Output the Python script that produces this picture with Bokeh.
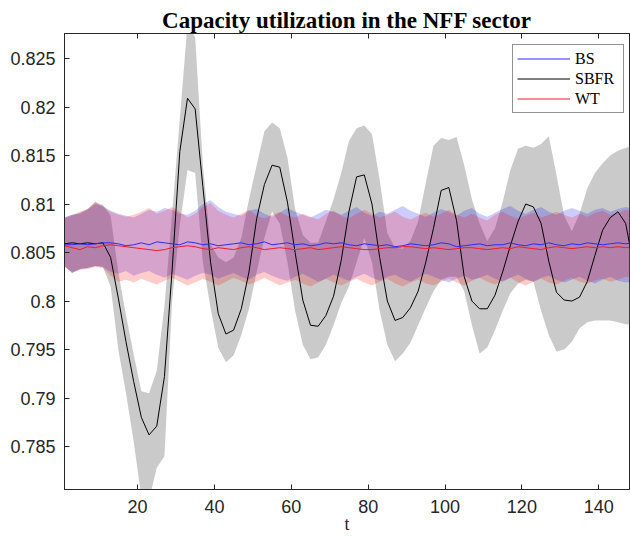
from bokeh.plotting import figure
from bokeh.models import Range1d, FixedTicker, LinearAxis, Legend, LegendItem
from bokeh.embed import file_html
from bokeh.resources import INLINE

# ---------------- data ----------------
t = list(range(1, 150, 2))

bs_mean = [0.8058, 0.8058, 0.8059, 0.8058, 0.8059, 0.8060, 0.8060, 0.8059, 0.8057, 0.8058,
           0.8060, 0.8058, 0.8061, 0.8060, 0.8059, 0.8058, 0.8061, 0.8060, 0.8058, 0.8059,
           0.8057, 0.8058, 0.8059, 0.8060, 0.8058, 0.8059, 0.8061, 0.8058, 0.8059, 0.8060,
           0.8058, 0.8059, 0.8057, 0.8058, 0.8060, 0.8059, 0.8060, 0.8058, 0.8057, 0.8059,
           0.8058, 0.8057, 0.8058, 0.8056, 0.8057, 0.8059, 0.8058, 0.8057, 0.8058, 0.8060,
           0.8059, 0.8056, 0.8057, 0.8058, 0.8059, 0.8057, 0.8058, 0.8058, 0.8060, 0.8058,
           0.8057, 0.8059, 0.8058, 0.8060, 0.8058, 0.8057, 0.8059, 0.8058, 0.8060, 0.8059,
           0.8058, 0.8059, 0.8060, 0.8059, 0.8060]
bs_upper = [0.8086, 0.8089, 0.8090, 0.8094, 0.8100, 0.8098, 0.8093, 0.8090, 0.8088, 0.8086,
            0.8090, 0.8094, 0.8092, 0.8096, 0.8094, 0.8090, 0.8089, 0.8093, 0.8100, 0.8104,
            0.8097, 0.8092, 0.8090, 0.8088, 0.8093, 0.8095, 0.8090, 0.8087, 0.8091, 0.8096,
            0.8092, 0.8089, 0.8086, 0.8090, 0.8094, 0.8092, 0.8089, 0.8093, 0.8097, 0.8091,
            0.8088, 0.8092, 0.8090, 0.8094, 0.8098, 0.8093, 0.8090, 0.8087, 0.8091, 0.8095,
            0.8092, 0.8088, 0.8093, 0.8096, 0.8090, 0.8087, 0.8091, 0.8095, 0.8098, 0.8093,
            0.8090, 0.8094, 0.8097, 0.8092, 0.8089, 0.8093, 0.8096, 0.8093, 0.8090, 0.8094,
            0.8096, 0.8092, 0.8095, 0.8097, 0.8095]
bs_lower = [0.8036, 0.8029, 0.8033, 0.8034, 0.8036, 0.8035, 0.8030, 0.8028, 0.8031, 0.8026,
            0.8029, 0.8031, 0.8027, 0.8024, 0.8028, 0.8025, 0.8022, 0.8026, 0.8029, 0.8027,
            0.8023, 0.8026, 0.8029, 0.8025, 0.8022, 0.8027, 0.8030, 0.8026, 0.8023, 0.8021,
            0.8025, 0.8028, 0.8024, 0.8020, 0.8023, 0.8027, 0.8024, 0.8021, 0.8025, 0.8028,
            0.8024, 0.8021, 0.8025, 0.8027, 0.8023, 0.8020, 0.8024, 0.8028, 0.8025, 0.8022,
            0.8019, 0.8023, 0.8026, 0.8022, 0.8024, 0.8027, 0.8023, 0.8020, 0.8024, 0.8027,
            0.8023, 0.8020, 0.8024, 0.8026, 0.8022, 0.8019, 0.8022, 0.8025, 0.8021, 0.8018,
            0.8022, 0.8025, 0.8021, 0.8019, 0.8020]

sbfr_mean = [0.8059, 0.8060, 0.8059, 0.8060, 0.8059, 0.8060,
             0.8045, 0.8003, 0.7958, 0.7917, 0.7880, 0.7862, 0.7871, 0.7922, 0.8032, 0.8154,
             0.8209, 0.8198, 0.8118, 0.8040,
             0.7987, 0.7966, 0.7970, 0.7992, 0.8030, 0.8085, 0.8120, 0.8140, 0.8138, 0.8102,
             0.8050, 0.8001, 0.7975, 0.7974, 0.7985, 0.8005, 0.8042, 0.8092, 0.8128, 0.8130,
             0.8100, 0.8045, 0.8000, 0.7980, 0.7983, 0.7993, 0.8010, 0.8040, 0.8075, 0.8114,
             0.8117, 0.8083, 0.8025, 0.8000, 0.7992, 0.7992, 0.8006, 0.8030, 0.8057, 0.8082,
             0.8100, 0.8097, 0.8080, 0.8041, 0.8009, 0.8001, 0.8000, 0.8004, 0.8020, 0.8047,
             0.8073, 0.8086, 0.8092, 0.8080, 0.8038]
sbfr_upper = [0.8086, 0.8089, 0.8091, 0.8095, 0.8102, 0.8099,
              0.8088, 0.8030, 0.7985, 0.7945, 0.7907, 0.7905, 0.7928, 0.7995, 0.8090, 0.8188,
              0.8285, 0.8272, 0.8140, 0.8058,
              0.8045, 0.8040, 0.8045, 0.8065, 0.8105, 0.8140, 0.8175, 0.8184, 0.8178, 0.8148,
              0.8095, 0.8068, 0.8060, 0.8060, 0.8082, 0.8105, 0.8132, 0.8165, 0.8178, 0.8181,
              0.8172, 0.8125, 0.8070, 0.8055, 0.8054, 0.8062, 0.8082, 0.8122, 0.8160, 0.8168,
              0.8166, 0.8169, 0.8140, 0.8105, 0.8080, 0.8062, 0.8075, 0.8102, 0.8135, 0.8157,
              0.8160, 0.8158, 0.8162, 0.8170, 0.8130, 0.8088, 0.8072, 0.8090, 0.8116, 0.8132,
              0.8142, 0.8150, 0.8155, 0.8158, 0.8160]
sbfr_lower = [0.8036, 0.8029, 0.8033, 0.8034, 0.8036, 0.8035,
              0.8015, 0.7950, 0.7905, 0.7855, 0.7798, 0.7795, 0.7828, 0.7840, 0.8000, 0.8078,
              0.8135, 0.8132, 0.8040, 0.7993,
              0.7952, 0.7937, 0.7944, 0.7965, 0.7992, 0.8030, 0.8065, 0.8092, 0.8080, 0.8040,
              0.7990, 0.7955, 0.7940, 0.7942, 0.7955, 0.7975, 0.7998, 0.8015, 0.8040, 0.8065,
              0.8040, 0.7990, 0.7955, 0.7938, 0.7946, 0.7957, 0.7975, 0.7993, 0.8010, 0.8022,
              0.8025, 0.8025, 0.8010, 0.7975, 0.7946, 0.7952, 0.7970, 0.7990, 0.8008, 0.8018,
              0.8022, 0.8020, 0.7990, 0.7965, 0.7948, 0.7950, 0.7958, 0.7972, 0.7978, 0.7980,
              0.7980, 0.7980, 0.7978, 0.7976, 0.7975]

wt_mean = [0.8057, 0.8055, 0.8053, 0.8056, 0.8055, 0.8057, 0.8058, 0.8057, 0.8056, 0.8055,
           0.8054, 0.8053, 0.8052, 0.8053, 0.8055, 0.8056, 0.8057, 0.8056, 0.8054, 0.8053,
           0.8055, 0.8054, 0.8053, 0.8055, 0.8056, 0.8055, 0.8053, 0.8054, 0.8055, 0.8054,
           0.8053, 0.8054, 0.8055, 0.8053, 0.8054, 0.8055, 0.8056, 0.8055, 0.8054, 0.8053,
           0.8053, 0.8054, 0.8055, 0.8055, 0.8056, 0.8056, 0.8055, 0.8054, 0.8055, 0.8054,
           0.8053, 0.8054, 0.8055, 0.8055, 0.8054, 0.8053, 0.8054, 0.8055, 0.8054, 0.8056,
           0.8055, 0.8054, 0.8053, 0.8055, 0.8056, 0.8055, 0.8054, 0.8055, 0.8056, 0.8055,
           0.8056, 0.8055, 0.8056, 0.8055, 0.8056]
wt_upper = [0.8085, 0.8088, 0.8092, 0.8095, 0.8102, 0.8097, 0.8092, 0.8089, 0.8087, 0.8089,
            0.8092, 0.8096, 0.8090, 0.8093, 0.8097, 0.8092, 0.8086, 0.8090, 0.8097, 0.8101,
            0.8093, 0.8089, 0.8086, 0.8090, 0.8094, 0.8088, 0.8085, 0.8089, 0.8092, 0.8088,
            0.8086, 0.8090, 0.8087, 0.8084, 0.8090, 0.8093, 0.8088, 0.8085, 0.8090, 0.8094,
            0.8090, 0.8086, 0.8089, 0.8092, 0.8087, 0.8084, 0.8088, 0.8091, 0.8087, 0.8090,
            0.8094, 0.8089, 0.8086, 0.8090, 0.8086, 0.8083, 0.8089, 0.8092, 0.8088, 0.8085,
            0.8088, 0.8091, 0.8086, 0.8089, 0.8092, 0.8089, 0.8086, 0.8090, 0.8087, 0.8091,
            0.8093, 0.8089, 0.8091, 0.8094, 0.8092]
wt_lower = [0.8035, 0.8030, 0.8032, 0.8033, 0.8035, 0.8034, 0.8026, 0.8020, 0.8022, 0.8019,
            0.8023, 0.8020, 0.8017, 0.8021, 0.8024, 0.8020, 0.8016, 0.8019, 0.8023, 0.8020,
            0.8016, 0.8020, 0.8024, 0.8021, 0.8017, 0.8020, 0.8024, 0.8020, 0.8016, 0.8019,
            0.8022, 0.8018, 0.8015, 0.8019, 0.8023, 0.8019, 0.8016, 0.8020, 0.8023, 0.8019,
            0.8016, 0.8020, 0.8023, 0.8018, 0.8015, 0.8019, 0.8022, 0.8018, 0.8016, 0.8020,
            0.8023, 0.8019, 0.8016, 0.8021, 0.8024, 0.8020, 0.8017, 0.8021, 0.8024, 0.8019,
            0.8016, 0.8020, 0.8023, 0.8019, 0.8017, 0.8021, 0.8024, 0.8020, 0.8018, 0.8021,
            0.8023, 0.8020, 0.8022, 0.8025, 0.8023]

series_names = ["BS", "SBFR", "WT"]
x_ticks = [20, 40, 60, 80, 100, 120, 140]
y_ticks = [0.785, 0.79, 0.795, 0.8, 0.805, 0.81, 0.815, 0.82, 0.825]
y_tick_labels = ["0.785", "0.79", "0.795", "0.8", "0.805", "0.81", "0.815", "0.82", "0.825"]
title_text = "Capacity utilization in the NFF sector"
x_label = "t"

# ---------------- figure ----------------
AX = "#262626"
p = figure(width=630, height=537,
           x_range=Range1d(1, 148), y_range=Range1d(0.78057, 0.82758),
           output_backend="svg", toolbar_location=None,
           min_border_left=64, min_border_right=1, min_border_top=33, min_border_bottom=48)
p.background_fill_color = "white"
p.border_fill_color = "white"
p.outline_line_color = AX
p.outline_line_width = 1
p.grid.visible = False

p.title.text = title_text
p.title.align = "center"
p.title.text_font = "Liberation Serif"
p.title.text_font_size = "23px"
p.title.text_font_style = "bold"
p.title.text_color = "black"
p.title.standoff = 2

# axes
xa = p.xaxis[0]
xa.ticker = FixedTicker(ticks=x_ticks)
ya = p.yaxis[0]
ya.ticker = FixedTicker(ticks=y_ticks)
ya.major_label_overrides = {v: s for v, s in zip(y_ticks, y_tick_labels)}
for ax in (xa, ya):
    ax.major_tick_in = 5
    ax.major_tick_out = 0
    ax.minor_tick_line_color = None
    ax.axis_line_color = AX
    ax.major_tick_line_color = AX
    ax.major_label_text_color = AX
    ax.major_label_text_font = "Liberation Sans"
    ax.major_label_text_font_size = "18px"
ya.major_label_standoff = 9
xa.major_label_standoff = 10
xa.axis_label = x_label
xa.axis_label_text_font = "Liberation Serif"
xa.axis_label_text_font_style = "normal"
xa.axis_label_text_font_size = "18px"
xa.axis_label_text_color = AX
xa.axis_label_standoff = -2

top = LinearAxis(ticker=FixedTicker(ticks=x_ticks), major_tick_in=5, major_tick_out=0,
                 minor_tick_line_color=None, major_label_text_font_size="0px",
                 major_label_text_color=None,
                 major_label_standoff=0, axis_line_color=AX, major_tick_line_color=AX)
p.add_layout(top, "above")

# bands
p.varea(x=t, y1=sbfr_lower, y2=sbfr_upper, fill_color="#808080", fill_alpha=0.42)
p.varea(x=t, y1=bs_lower, y2=bs_upper, fill_color="#0000ff", fill_alpha=0.2)
p.varea(x=t, y1=wt_lower, y2=wt_upper, fill_color="#ff0000", fill_alpha=0.2)

# lines
r_sbfr = p.line(t, sbfr_mean, line_color="black", line_width=1)
r_bs = p.line(t, bs_mean, line_color="#2a2aff", line_width=1)
r_wt = p.line(t, wt_mean, line_color="#ee1c2e", line_width=1)

legend = Legend(items=[LegendItem(label=series_names[0], renderers=[r_bs]),
                       LegendItem(label=series_names[1], renderers=[r_sbfr]),
                       LegendItem(label=series_names[2], renderers=[r_wt])],
                location=(448, 376), margin=0, padding=4, spacing=1,
                glyph_width=53, glyph_height=19, label_height=19, label_width=44,
                label_standoff=5,
                label_text_font="Liberation Serif", label_text_font_size="16px",
                label_text_color="black",
                border_line_color=AX, border_line_width=1,
                background_fill_color="white", background_fill_alpha=1)
p.add_layout(legend, "center")

open("out.html", "w").write(file_html(p, INLINE))
